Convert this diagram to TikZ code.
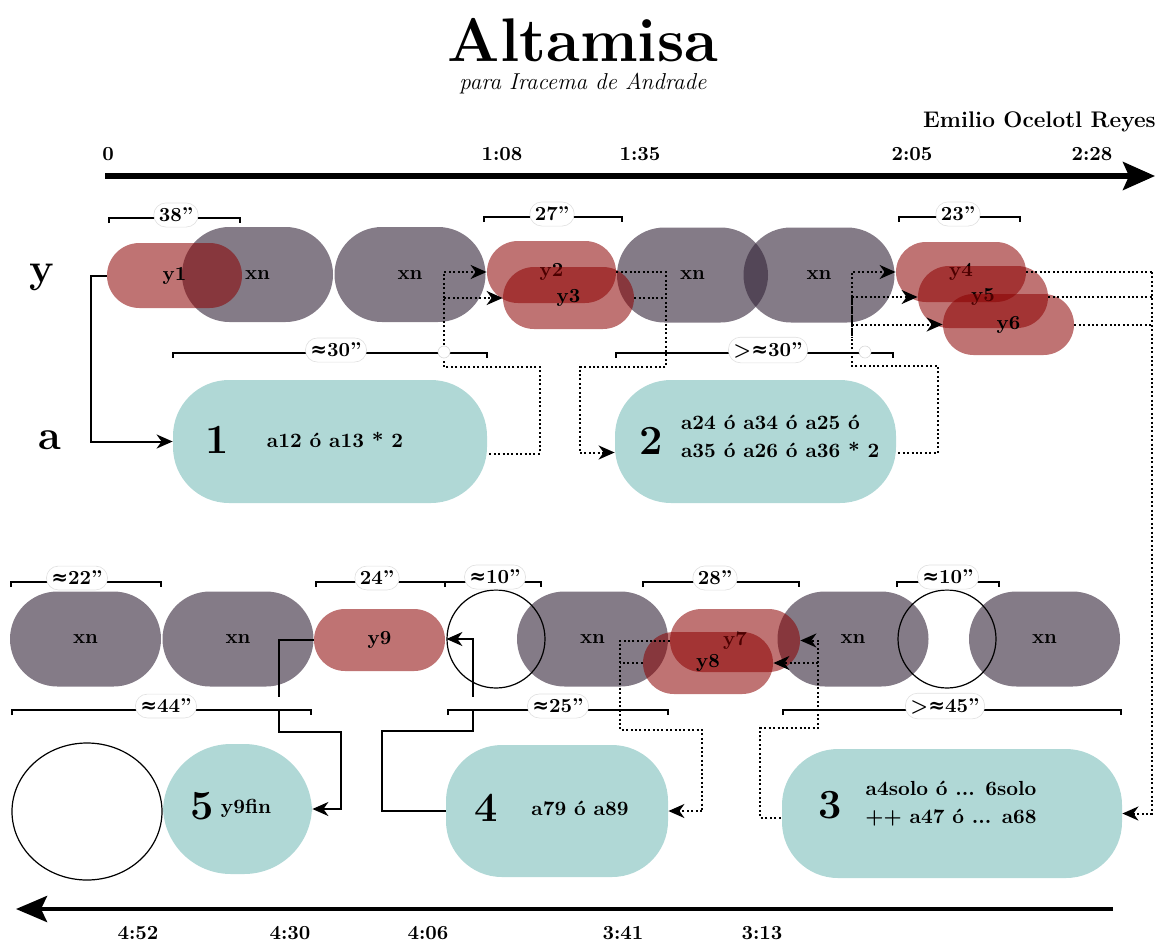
\documentclass[tikz,border=0pt]{standalone}
\usepackage{fontspec}
\newfontfamily\symf{DejaVu Serif}
\newcommand{\apx}{{\symf\bfseries ≈}}
\usetikzlibrary{arrows.meta,calc,shapes.misc,shapes.geometric}
\definecolor{xgray}{RGB}{50,35,55}
\definecolor{yred}{RGB}{139,0,0}
\definecolor{ateal}{RGB}{176,216,214}
\begin{document}
\begin{tikzpicture}[x=0.5pt,y=-0.5pt,font=\bfseries,
  sz/.style 2 args={minimum width=#1*0.5pt,minimum height=#2*0.5pt},
  xn/.style={rounded rectangle,inner sep=0pt,fill=xgray,fill opacity=0.6,text opacity=1,sz={151}{95}},
  yp/.style={rounded rectangle,inner sep=0pt,fill=yred,fill opacity=0.55,text opacity=1},
  ap/.style={rectangle,inner sep=0pt,fill=ateal,rounded corners=28pt},
  ring/.style={circle,draw=black,line width=0.6pt,minimum size=49pt,inner sep=0pt},
  conn/.style={line width=1pt,-{Stealth[length=8pt,width=7pt,inset=2.5pt]}},
  mydots/.style={line width=1pt,dash pattern=on 1pt off 1.2pt},
  dconn/.style={mydots,-{Stealth[length=8pt,width=7pt,inset=2.5pt]}},
  brk/.style={line width=1pt},
  lbl/.style={fill=white,draw=black!12,line width=0.3pt,rounded corners=6pt,inner sep=2.5pt},
  xing/.style={circle,fill=white,draw=black!15,line width=0.3pt,minimum size=6pt,inner sep=0pt},
  gapc/.style={circle,fill=white,minimum size=6pt,inner sep=0pt},
  big/.style={font=\bfseries\huge},
  txt/.style={font=\fontsize{10.2}{14}\selectfont\bfseries}
]
\useasboundingbox (0,0) rectangle (1159,947);

% title
\node[inner sep=0pt] (title) at (583,40) {\fontsize{30.8}{36}\selectfont\bfseries Altamisa};
\node[inner sep=0pt] (sub) at (583,84) {\fontsize{11.5}{14}\selectfont\mdseries\itshape para Iracema de Andrade};
\node[anchor=east,inner sep=0pt] (author) at (1156,122) {\fontsize{11.3}{14}\selectfont Emilio Ocelotl Reyes};

% time axes
\coordinate (ts) at (105,176);
\coordinate (te) at (1155,176);
\draw[line width=2.6pt,-{Stealth[length=16pt,width=14pt,inset=3pt]}] (ts) -- (te);
\node (t0) at (108,154) {0};
\node (t108) at (502,154) {1:08};
\node (t135) at (640,154) {1:35};
\node (t205) at (912,154) {2:05};
\node (t228) at (1092,154) {2:28};

\coordinate (bs) at (1113,909);
\coordinate (be) at (16,909);
\draw[line width=2.2pt,-{Stealth[length=15.5pt,width=13pt,inset=3pt]}] (bs) -- (be);
\node (b452) at (138,933) {4:52};
\node (b430) at (290,933) {4:30};
\node (b406) at (428,933) {4:06};
\node (b341) at (623,933) {3:41};
\node (b313) at (762,933) {3:13};

% row labels
\node[big] (ry) at (42,277) {y};
\node[big] (ra) at (50,440) {a};

% top row: gray
\node[xn] (xnA) at (257.5,274.5) {xn};
\node[xn] (xnB) at (410,274.5) {xn};
\node[xn] (xnC) at (692.5,275) {xn};
\node[xn] (xnD) at (819,275) {xn};
% top row: red
\node[yp,sz={135}{65}] (y1) at (174.5,275.5) {y1};
\node[yp,sz={129}{62}] (y2) at (551.5,272) {y2};
\node[yp,sz={131}{62}] (y3) at (568.5,298) {y3};
\node[yp,sz={130}{60}] (y4) at (961,272) {y4};
\node[yp,sz={130}{62}] (y5) at (983,297) {y5};
\node[yp,sz={131}{61}] (y6) at (1008.5,324.5) {y6};

% bottom row: gray
\node[xn] (xnE) at (85.5,639) {xn};
\node[xn] (xnF) at (238,639) {xn};
\node[xn] (xnG) at (592.5,639) {xn};
\node[xn] (xnH) at (853,639) {xn};
\node[xn] (xnI) at (1044.5,639) {xn};
% bottom row: red
\node[yp,sz={131}{62}] (y9) at (379.5,640) {y9};
\node[yp,sz={130}{63}] (y7) at (735,640.5) {y7};
\node[yp,sz={130}{62}] (y8) at (708,663) {y8};
% rings
\node[ring] (c1) at (496,639) {};
\node[ring] (c2) at (947,639) {};

% teal a-nodes
\node[ap,sz={314}{123}] (t1) at (330,441.5) {};
\node[ap,sz={281}{123}] (t2) at (755.5,441.5) {};
\node[ap,sz={340}{129}] (t3) at (952,813.5) {};
\node[ap,sz={222}{132}] (t4) at (557,811) {};
\node[ap,sz={149}{130},rounded corners=34pt] (t5) at (237.5,809) {};
\node[ellipse,draw=black,line width=0.6pt,sz={150}{137},inner sep=0pt] (e5) at (87,811.5) {};

\node[big] (n1) at (217,440) {1};
\node[txt] (a1) at (335,440) {a12 ó a13 * 2};
\node[big] (n2) at (651,441) {2};
\node[txt,anchor=west,align=left] (a2) at (674,436) {a24 ó a34 ó a25 ó\\a35 ó a26 ó a36 * 2};
\node[big] (n3) at (830,805) {3};
\node[txt,align=center] (a3) at (951,804) {a4solo ó ... 6solo\\++ a47 ó ... a68};
\node[big] (n4) at (486,808) {4};
\node[txt] (a4) at (580,808) {a79 ó a89};
\node[big] (n5) at (202,806) {5};
\node[txt] (a5) at (246,808) {y9fin};

% connectors
\draw[conn] (y1.west) -- ++(-16,0) |- (t1.west);

\draw[mydots] ($(t1.east)+(2,12)$) -- (540,453.5) -- (540,367) -- (444,367) -- (444,298);
\draw[dconn] (444,298) |- (y2.west);
\draw[dconn] (444,298) -- (y3.west);

\draw[mydots] (y2.east) -- (666,272) -- (666,367) -- (580,367) -- (580,452.5);
\draw[mydots] (y3.east) -- (666,298);
\draw[dconn] (580,452.5) -- ($(t2.west)+(0,11)$);

\draw[mydots] ($(t2.east)+(2,11)$) -- (938,452.5) -- (938,366) -- (852,366) -- (852,297);
\draw[dconn] (852,297) |- (y4.west);
\draw[dconn] (852,297) -- (y5.west);
\draw[dconn] (852,324.5) -- (y6.west);
\draw[mydots] (852,297) -- (852,337);

\draw[mydots] (y4.east) -- (1152,272);
\draw[mydots] (y5.east) -- (1152,297);
\draw[mydots] (y6.east) -- (1152,324.5);
\draw[dconn] (1152,272) |- (t3.east);

\draw[mydots] ($(t3.west)+(-1,4)$) -- (760,817.5) -- (760,728) -- (818,728) -- (818,663);
\draw[dconn] (818,663) |- (y7.east);
\draw[dconn] (818,663) -- (y8.east);

\draw[mydots] (y7.west) -- (620,640.5) -- (620,730) -- (702,730) -- (702,811);
\draw[mydots] (y8.west) -- (620,663);
\draw[dconn] (702,811) -- (t4.east);

\draw[conn] (y9.west) -- (279,640) -- (279,732) -- (341,732) |- (t5.east);
\draw[conn] (t4.west) -- (382,811) -- (382,731) -- (473,731) |- (c1.west);

% brackets
\foreach \xa/\xb/\yy in {109/240/218, 484/622/217, 899/1020/217, 173/487/353,
  616/893/353, 11/161/582, 316/445/582, 445/541/582, 643/799/582, 897/999/582,
  12/311/710, 448/668/710, 783/1121/710}{
  \draw[brk] (\xa,\yy+5) |- (\xb,\yy) -- (\xb,\yy+5);
}
\node[xing] (x1) at (444,352) {};
\node[xing] (x2) at (865,352) {};
\node[gapc] (g1) at (279,703) {};
\node[gapc] (g2) at (473,703) {};

\node[lbl] (k1) at (176,215) {38''};
\node[lbl] (k2) at (552,214) {27''};
\node[lbl] (k3) at (958,214) {23''};
\node[lbl] (k4) at (336,350) {\apx30''};
\node[lbl] (k5) at (768,350) {>\apx30''};
\node[lbl] (k6) at (77,578) {\apx22''};
\node[lbl] (k7) at (377,578) {24''};
\node[lbl] (k8) at (495,577) {\apx10''};
\node[lbl] (k9) at (715,578) {28''};
\node[lbl] (k10) at (948,577) {\apx10''};
\node[lbl] (k11) at (166,706) {\apx44''};
\node[lbl] (k12) at (558,706) {\apx25''};
\node[lbl] (k13) at (945,706) {>\apx45''};
\end{tikzpicture}
\end{document}
